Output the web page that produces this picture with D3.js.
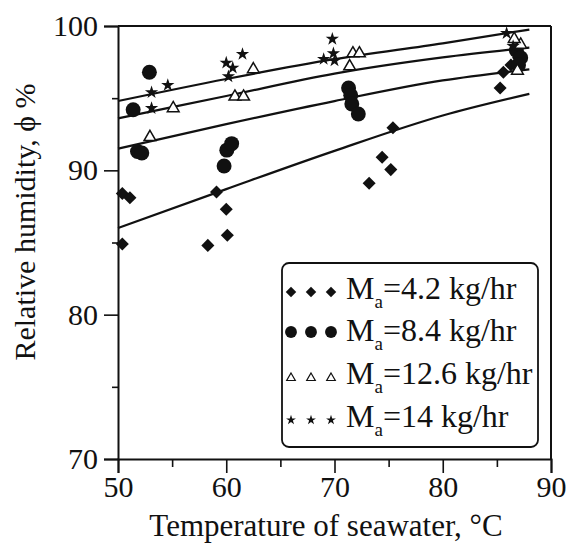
<!DOCTYPE html>
<html>
<head>
<meta charset="utf-8">
<script src="https://cdn.jsdelivr.net/npm/d3@7"></script>
<style>
  html, body { margin: 0; padding: 0; background: #fff; }
  svg { display: block; }
  svg text { font-family: "Liberation Serif", "Times New Roman", Times, "DejaVu Serif", serif; fill: #111; }
</style>
</head>
<body>
<svg id="chart" width="567" height="546"></svg>
<script>
// Measured relative humidity vs. seawater temperature for four air flow rates
const seriesLabels = ["=4.2 kg/hr", "=8.4 kg/hr", "=12.6 kg/hr", "=14 kg/hr"];

const diamondPts = [
  [50.4, 88.4], [51.1, 88.1], [50.4, 84.9],
  [59.1, 88.5], [60.0, 87.3], [60.1, 85.5], [58.3, 84.8],
  [75.4, 92.95], [74.4, 90.9], [75.2, 90.05], [73.2, 89.1],
  [85.3, 95.7], [85.6, 96.8], [86.3, 97.3], [87.0, 97.8]
];
const circlePts = [
  [52.9, 96.8], [51.4, 94.2], [51.8, 91.3], [52.2, 91.2],
  [59.8, 90.3], [60.05, 91.4], [60.5, 91.85],
  [71.3, 95.7], [71.5, 95.2], [71.6, 94.6], [72.2, 93.9],
  [86.8, 98.3], [87.2, 97.8], [87.0, 97.3]
];
const trianglePts = [
  [52.95, 92.3], [55.1, 94.3], [60.8, 95.1], [61.6, 95.1], [62.5, 97.0],
  [71.4, 97.2], [71.7, 98.1], [72.3, 98.1],
  [86.9, 96.9], [87.2, 98.7], [86.6, 99.1]
];
const starPts = [
  [53.1, 95.4], [54.6, 95.9], [53.1, 94.3],
  [60.0, 97.45], [60.6, 97.1], [60.2, 96.5], [61.5, 98.05],
  [69.8, 99.1], [69.9, 98.1], [69.0, 97.7], [70.0, 97.6],
  [85.9, 99.5], [86.5, 98.6]
];

// Fitted trend curves, read at a few temperatures
const fitTemps = [50, 60, 70, 80, 88];
const fit42 = [86.0, 88.7, 91.35, 93.8, 95.3];
const fit84 = [91.5, 93.2, 94.8, 96.23, 97.0];
const fit126 = [93.6, 95.15, 96.7, 97.82, 98.5];
const fit14 = [94.8, 96.33, 97.7, 98.8, 99.75];

const xTicks = [50, 60, 70, 80, 90];
const xMinor = [55, 65, 75, 85];
const yTicks = [70, 80, 90, 100];
const yMinor = [75, 85, 95];

const serif = "'Liberation Serif', 'Times New Roman', Times, 'DejaVu Serif', serif";

const svg = d3.select("#chart");
const plotL = 118, plotR = 551, plotT = 26, plotB = 459;

const x = d3.scaleLinear().domain([50, 90]).range([plotL, plotR]);
const y = d3.scaleLinear().domain([70, 100]).range([plotB, plotT]);

// frame
const frame = svg.append("g").attr("stroke", "#111").attr("stroke-width", 2).attr("fill", "none");
frame.append("line").attr("x1", plotL).attr("x2", plotR).attr("y1", plotT).attr("y2", plotT);
frame.append("line").attr("x1", plotR).attr("x2", plotR).attr("y1", plotT).attr("y2", plotB);

// axes
const xAxis = svg.append("g").attr("transform", `translate(0,${plotB})`)
  .call(d3.axisBottom(x).tickValues(xTicks).tickSize(14).tickPadding(3).tickFormat(d3.format("d")));
svg.append("g").attr("transform", `translate(0,${plotB})`)
  .call(d3.axisBottom(x).tickValues(xMinor).tickSize(8).tickFormat(""))
  .call(g => g.select(".domain").remove());
const yAxis = svg.append("g").attr("transform", `translate(${plotL},0)`)
  .call(d3.axisLeft(y).tickValues(yTicks).tickSize(14).tickPadding(6).tickFormat(d3.format("d")));
svg.append("g").attr("transform", `translate(${plotL},0)`)
  .call(d3.axisLeft(y).tickValues(yMinor).tickSize(6).tickFormat(""))
  .call(g => g.select(".domain").remove());

svg.selectAll("g").attr("font-family", serif);
svg.selectAll(".domain").attr("stroke", "#111").attr("stroke-width", 2);
svg.selectAll(".tick line").attr("stroke", "#111").attr("stroke-width", 1.6);
svg.selectAll(".tick text").attr("font-size", 30).style("font-family", serif).attr("fill", "#111");

// axis titles
svg.append("text")
  .attr("x", 326).attr("y", 536)
  .attr("text-anchor", "middle").attr("font-size", 31).style("font-family", serif)
  .text("Temperature of seawater, °C");
svg.append("text")
  .attr("transform", `translate(35,${222}) rotate(-90)`)
  .attr("text-anchor", "middle").attr("font-size", 30).style("font-family", serif)
  .text("Relative humidity, ϕ %");

// trend curves
const line = d3.line().x(d => x(d[0])).y(d => y(d[1])).curve(d3.curveMonotoneX);
[fit42, fit84, fit126, fit14].forEach(vals => {
  svg.append("path")
    .datum(fitTemps.map((t, i) => [t, vals[i]]))
    .attr("d", line)
    .attr("fill", "none").attr("stroke", "#111").attr("stroke-width", 2.2);
});

// marker shapes
const diamond = d3.symbol().type(d3.symbolSquare);
const circle = d3.symbol().type(d3.symbolCircle);
const triangle = d3.symbol().type(d3.symbolTriangle);
const star = d3.symbol().type(d3.symbolStar);

function drawPoints(pts, gen, size, opts) {
  svg.append("g").selectAll("path").data(pts).join("path")
    .attr("d", gen.size(size)())
    .attr("transform", d => `translate(${x(d[0])},${y(d[1])})${opts.rotate ? " rotate(45)" : ""}`)
    .attr("fill", opts.fill).attr("stroke", opts.stroke || "none")
    .attr("stroke-width", opts.sw || 0);
}
drawPoints(diamondPts, diamond, 85, { fill: "#111", rotate: true });
drawPoints(circlePts, circle, 175, { fill: "#111" });
drawPoints(trianglePts, triangle, 60, { fill: "#fff", stroke: "#111", sw: 1.5 });
drawPoints(starPts, star, 55, { fill: "#111" });

// legend
const lg = svg.append("g");
lg.append("rect")
  .attr("x", 282).attr("y", 263).attr("width", 256).attr("height", 184)
  .attr("rx", 7).attr("fill", "#fff").attr("stroke", "#111").attr("stroke-width", 1.8);

const legendRows = [
  { gen: diamond, size: 55, fill: "#111", rotate: true, cy: 292, base: 299 },
  { gen: circle, size: 110, fill: "#111", cy: 332, base: 341 },
  { gen: triangle, size: 32, fill: "#fff", stroke: "#111", sw: 1.2, cy: 378, base: 384 },
  { gen: star, size: 30, fill: "#111", cy: 420, base: 427 }
];
const legendSymX = [291, 311, 331];
legendRows.forEach((r, i) => {
  legendSymX.forEach(sx => {
    lg.append("path")
      .attr("d", r.gen.size(r.size)())
      .attr("transform", `translate(${sx},${r.cy})${r.rotate ? " rotate(45)" : ""}`)
      .attr("fill", r.fill).attr("stroke", r.stroke || "none").attr("stroke-width", r.sw || 0);
  });
  const t = lg.append("text").attr("x", 346).attr("y", r.base).attr("font-size", 32).style("font-family", serif);
  t.append("tspan").text("M");
  t.append("tspan").attr("font-size", 19).attr("dy", 9).text("a");
  t.append("tspan").attr("dy", -9).text(seriesLabels[i]);
});
</script>
</body>
</html>
